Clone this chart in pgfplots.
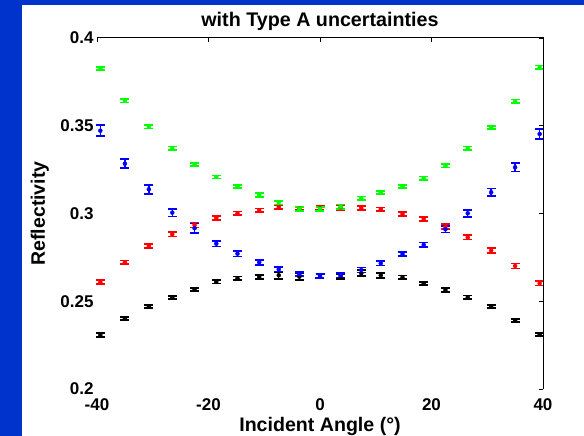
\documentclass[border=0pt]{standalone}
\usepackage{pgfplots}
\pgfplotsset{compat=1.18}
\usepackage{pgfplotstable}
\usepackage{fontspec}
\setmainfont{Liberation Sans}
\definecolor{slideblue}{RGB}{0,51,204}

% angle, reflectivity, Type A uncertainty
\pgfplotstableread{
a r e
-39.4 0.2308 0.0010
-35.0 0.2401 0.0009
-30.7 0.2469 0.0009
-26.5 0.2523 0.0009
-22.5 0.2568 0.0009
-18.6 0.2610 0.0009
-14.8 0.2631 0.0010
-10.9 0.2638 0.0013
-7.4 0.2648 0.0020
-3.7 0.2640 0.0019
0 0.2643 0.0012
3.7 0.2640 0.0015
7.4 0.2659 0.0017
10.9 0.2648 0.0014
14.8 0.2636 0.0011
18.6 0.2602 0.0009
22.5 0.2564 0.0010
26.5 0.2523 0.0010
30.7 0.2469 0.0009
35.0 0.2389 0.0009
39.4 0.2309 0.0009
}\blackdata

\pgfplotstableread{
a r e
-39.4 0.2608 0.0011
-35.0 0.2722 0.0010
-30.7 0.2815 0.0011
-26.5 0.2881 0.0012
-22.5 0.2934 0.0014
-18.6 0.2976 0.0012
-14.8 0.3001 0.0010
-10.9 0.3018 0.0010
-7.4 0.3037 0.0011
-3.7 0.3028 0.0010
0 0.3030 0.0012
3.7 0.3035 0.0014
7.4 0.3030 0.0012
10.9 0.3024 0.0010
14.8 0.2997 0.0010
18.6 0.2969 0.0011
22.5 0.2925 0.0014
26.5 0.2864 0.0012
30.7 0.2788 0.0014
35.0 0.2701 0.0014
39.4 0.2602 0.0012
}\reddata

\pgfplotstableread{
a r e
-39.4 0.3472 0.0030
-35.0 0.3284 0.0026
-30.7 0.3138 0.0026
-26.5 0.3005 0.0022
-22.5 0.2916 0.0027
-18.6 0.2828 0.0016
-14.8 0.2771 0.0016
-10.9 0.2722 0.0014
-7.4 0.2682 0.0012
-3.7 0.2655 0.0013
0 0.2644 0.0012
3.7 0.2648 0.0013
7.4 0.2678 0.0014
10.9 0.2716 0.0012
14.8 0.2769 0.0012
18.6 0.2821 0.0014
22.5 0.2910 0.0018
26.5 0.3001 0.0019
30.7 0.3121 0.0022
35.0 0.3263 0.0024
39.4 0.3453 0.0028
}\bluedata

\pgfplotstableread{
a r e
-39.4 0.3827 0.0010
-35.0 0.3643 0.0010
-30.7 0.3493 0.0009
-26.5 0.3372 0.0010
-22.5 0.3280 0.0010
-18.6 0.3208 0.0009
-14.8 0.3153 0.0009
-10.9 0.3105 0.0010
-7.4 0.3062 0.0011
-3.7 0.3026 0.0010
0 0.3026 0.0010
3.7 0.3039 0.0012
7.4 0.3087 0.0010
10.9 0.3119 0.0010
14.8 0.3153 0.0009
18.6 0.3201 0.0010
22.5 0.3271 0.0009
26.5 0.3372 0.0010
30.7 0.3491 0.0009
35.0 0.3639 0.0010
39.4 0.3833 0.0010
}\greendata

\pgfplotsset{
  errset/.style={
    only marks, mark=none, color=#1,
    error bars/.cd, y dir=both, y explicit,
    error bar style={line width=1.5pt, color=#1},
    error mark options={rotate=90, mark size=4.5pt, line width=1.8pt, color=#1},
  },
}

\begin{document}
\begin{tikzpicture}
\useasboundingbox (0,0) rectangle (584pt,436pt);
\fill[white] (0,0) rectangle (584pt,436pt);
\fill[slideblue] (0,0) rectangle (22pt,436pt);
\fill[slideblue] (0,431pt) rectangle (584pt,436pt);
\begin{axis}[
  at={(97pt,47pt)}, anchor=south west,
  scale only axis, width=446pt, height=351pt,
  xmin=-40, xmax=40, ymin=0.2, ymax=0.4,
  axis line style={draw=none},
  xtick={-40,-20,0,20,40}, xticklabels={-40,-20,0,20,40},
  ytick={0.2,0.25,0.3,0.35,0.4}, yticklabels={0.2,0.25,0.3,0.35,0.4},
  xtick pos=right, ytick pos=right,
  xticklabel pos=left, yticklabel pos=left,
  tick align=inside, major tick length=4pt,
  tick style={black, line width=0.8pt},
  ticklabel style={font=\bfseries\fontsize{17}{17}\selectfont},
  xticklabel style={yshift=-6pt},
  title={with Type A uncertainties},
  title style={font=\bfseries\fontsize{19.7}{19.7}\selectfont,
    at={(axis description cs:0.5,1)}, anchor=center, yshift=11pt},
  xlabel={Incident Angle (°)},
  xlabel style={font=\bfseries\fontsize{19.6}{19.6}\selectfont,
    at={(axis description cs:0.5,-0.108)}, anchor=center},
  ylabel={Reflectivity},
  ylabel style={font=\bfseries\fontsize{19.5}{19.5}\selectfont,
    at={(axis description cs:-0.128,0.5)}, anchor=center},
  clip=false,
]
\addplot[errset=black] table[x=a, y=r, y error=e] {\blackdata};
\addplot[errset=red] table[x=a, y=r, y error=e] {\reddata};
\addplot[errset=blue] table[x=a, y=r, y error=e] {\bluedata};
\addplot[errset=green] table[x=a, y=r, y error=e] {\greendata};
\draw[black, line width=1pt] (rel axis cs:0,1) -- (rel axis cs:1,1) -- (rel axis cs:1,0);
\end{axis}
\end{tikzpicture}
\end{document}
